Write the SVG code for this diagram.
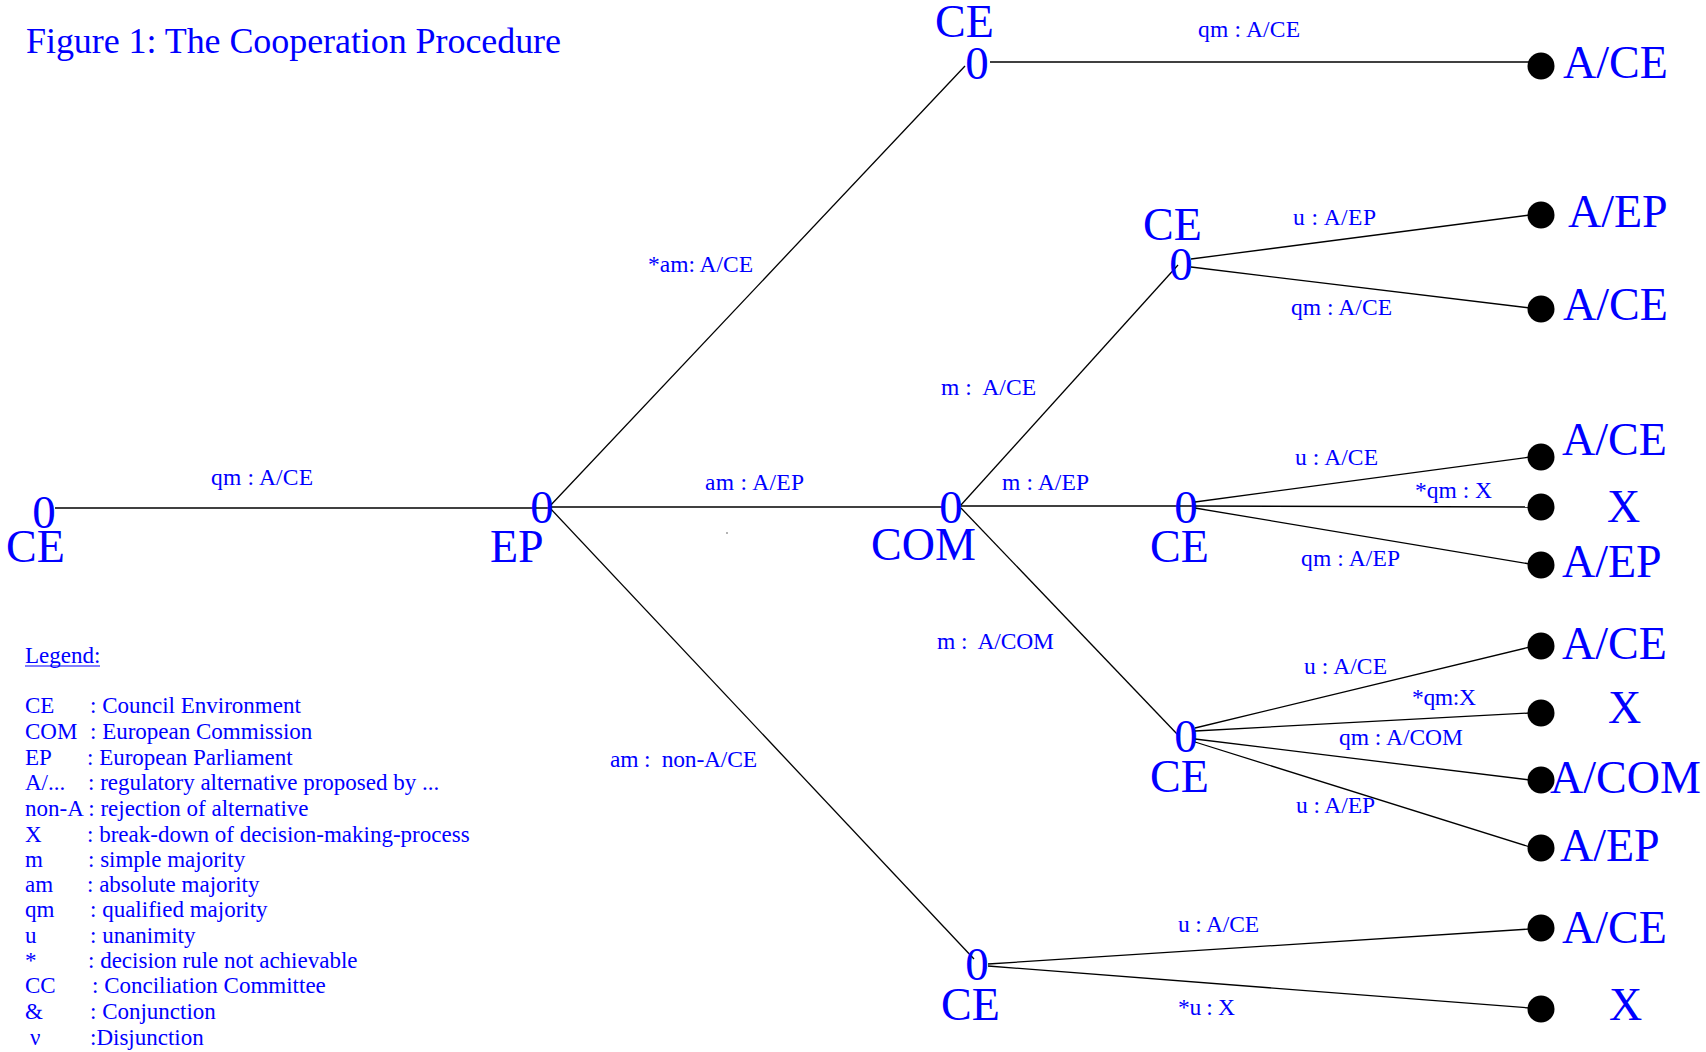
<svg xmlns="http://www.w3.org/2000/svg" width="1706" height="1052" viewBox="0 0 1706 1052">
<style>
text{font-family:"Liberation Serif","Times New Roman",serif;fill:#0000FF}
.title{font-size:36px}
.zero{font-size:47px;text-anchor:middle}
.nl{font-size:46px}
.out{font-size:46px}
.el{font-size:23.5px}
.lg{font-size:23px}
.cn line{stroke:#000;stroke-width:1.3;fill:none}
.dot{fill:#000}
</style>
<rect width="1706" height="1052" fill="#fff"/>
<text class="title" x="26" y="53" textLength="535">Figure 1: The Cooperation Procedure</text>

<g id="connectors" class="cn">
<line x1="55" y1="508" x2="549" y2="508"/>
<line x1="549" y1="507" x2="965" y2="66"/>
<line x1="549" y1="507" x2="943" y2="507"/>
<line x1="549" y1="507" x2="974" y2="959"/>
<line x1="990" y1="62" x2="1530" y2="62"/>
<line x1="961" y1="505" x2="1178" y2="265"/>
<line x1="961" y1="506" x2="1190" y2="506"/>
<line x1="961" y1="508" x2="1178" y2="735"/>
<line x1="1191" y1="259" x2="1530" y2="215"/>
<line x1="1191" y1="267" x2="1530" y2="308"/>
<line x1="1195" y1="502" x2="1530" y2="457"/>
<line x1="1190" y1="506" x2="1530" y2="507"/>
<line x1="1195" y1="508" x2="1530" y2="564"/>
<line x1="1195" y1="728" x2="1530" y2="647"/>
<line x1="1195" y1="731" x2="1530" y2="713"/>
<line x1="1195" y1="739" x2="1530" y2="780"/>
<line x1="1195" y1="742" x2="1530" y2="847"/>
<line x1="988" y1="964" x2="1530" y2="929"/>
<line x1="988" y1="966" x2="1530" y2="1008"/>
<circle cx="727" cy="533" r="0.8" fill="#555"/>
</g>

<g id="edge-labels">
<text class="el" x="211" y="485" textLength="102">qm : A/CE</text>
<text class="el" x="648" y="272" textLength="105">*am: A/CE</text>
<text class="el" x="705" y="490" textLength="99">am : A/EP</text>
<text class="el" x="610" y="767" textLength="147">am :&#160; non-A/CE</text>
<text class="el" x="1198" y="37" textLength="102">qm : A/CE</text>
<text class="el" x="941" y="395" textLength="95">m :&#160; A/CE</text>
<text class="el" x="1002" y="490" textLength="87">m : A/EP</text>
<text class="el" x="937" y="649" textLength="117">m :&#160; A/COM</text>
<text class="el" x="1293" y="225" textLength="83">u : A/EP</text>
<text class="el" x="1291" y="315" textLength="101">qm : A/CE</text>
<text class="el" x="1295" y="465" textLength="83">u : A/CE</text>
<text class="el" x="1415" y="498" textLength="77">*qm : X</text>
<text class="el" x="1301" y="566" textLength="99">qm : A/EP</text>
<text class="el" x="1304" y="674" textLength="83">u : A/CE</text>
<text class="el" x="1412" y="705" textLength="64">*qm:X</text>
<text class="el" x="1339" y="745" textLength="124">qm : A/COM</text>
<text class="el" x="1296" y="813" textLength="79">u : A/EP</text>
<text class="el" x="1178" y="932" textLength="81">u : A/CE</text>
<text class="el" x="1178" y="1015" textLength="57">*u : X</text>
</g>

<g id="node-ce-root"><text class="zero" x="44" y="528">0</text><text class="nl" x="6" y="562">CE</text></g>
<g id="node-ep"><text class="zero" x="542" y="523">0</text><text class="nl" x="490" y="562">EP</text></g>
<g id="node-com"><text class="zero" x="951" y="523">0</text><text class="nl" x="871" y="560">COM</text></g>
<g id="node-ce-top"><text class="zero" x="977" y="79">0</text><text class="nl" x="935" y="37">CE</text></g>
<g id="node-ce-2"><text class="zero" x="1181" y="280">0</text><text class="nl" x="1143" y="240">CE</text></g>
<g id="node-ce-3"><text class="zero" x="1186" y="523">0</text><text class="nl" x="1150" y="562">CE</text></g>
<g id="node-ce-4"><text class="zero" x="1186" y="752">0</text><text class="nl" x="1150" y="792">CE</text></g>
<g id="node-ce-5"><text class="zero" x="977" y="980">0</text><text class="nl" x="941" y="1020">CE</text></g>

<g id="out-1"><circle class="dot" cx="1541" cy="66" r="13.5"/><text class="out" x="1563" y="78">A/CE</text></g>
<g id="out-2"><circle class="dot" cx="1541" cy="215" r="13.5"/><text class="out" x="1568" y="227">A/EP</text></g>
<g id="out-3"><circle class="dot" cx="1541" cy="309" r="13.5"/><text class="out" x="1563" y="320">A/CE</text></g>
<g id="out-4"><circle class="dot" cx="1541" cy="457" r="13.5"/><text class="out" x="1562" y="455">A/CE</text></g>
<g id="out-5"><circle class="dot" cx="1541" cy="507" r="13.5"/><text class="out" x="1607" y="522">X</text></g>
<g id="out-6"><circle class="dot" cx="1541" cy="565" r="13.5"/><text class="out" x="1562" y="577">A/EP</text></g>
<g id="out-7"><circle class="dot" cx="1541" cy="646" r="13.5"/><text class="out" x="1562" y="659">A/CE</text></g>
<g id="out-8"><circle class="dot" cx="1541" cy="713" r="13.5"/><text class="out" x="1608" y="723">X</text></g>
<g id="out-9"><circle class="dot" cx="1541" cy="780" r="13.5"/><text class="out" x="1550" y="793">A/COM</text></g>
<g id="out-10"><circle class="dot" cx="1541" cy="848" r="13.5"/><text class="out" x="1560" y="861">A/EP</text></g>
<g id="out-11"><circle class="dot" cx="1541" cy="928" r="13.5"/><text class="out" x="1562" y="943">A/CE</text></g>
<g id="out-12"><circle class="dot" cx="1541" cy="1009" r="13.5"/><text class="out" x="1609" y="1020">X</text></g>

<g id="legend">
<text class="lg" x="25" y="663">Legend:</text>
<line x1="25" y1="666" x2="100" y2="666" stroke="#0000FF" stroke-width="1.2"/>
<text class="lg" x="25" y="713">CE</text><text class="lg" x="90" y="713">: Council Environment</text>
<text class="lg" x="25" y="739">COM</text><text class="lg" x="90" y="739">: European Commission</text>
<text class="lg" x="25" y="765">EP</text><text class="lg" x="87" y="765">: European Parliament</text>
<text class="lg" x="25" y="790">A/...</text><text class="lg" x="88" y="790">: regulatory alternative proposed by ...</text>
<text class="lg" x="25" y="816">non-A : rejection of alternative</text>
<text class="lg" x="25" y="842">X</text><text class="lg" x="87" y="842">: break-down of decision-making-process</text>
<text class="lg" x="25" y="867">m</text><text class="lg" x="88" y="867">: simple majority</text>
<text class="lg" x="25" y="892">am</text><text class="lg" x="87" y="892">: absolute majority</text>
<text class="lg" x="25" y="917">qm</text><text class="lg" x="90" y="917">: qualified majority</text>
<text class="lg" x="25" y="943">u</text><text class="lg" x="90" y="943">: unanimity</text>
<text class="lg" x="25" y="968">*</text><text class="lg" x="88" y="968">: decision rule not achievable</text>
<text class="lg" x="25" y="993">CC</text><text class="lg" x="92" y="993">: Conciliation Committee</text>
<text class="lg" x="25" y="1019">&amp;</text><text class="lg" x="90" y="1019">: Conjunction</text>
<text class="lg" x="30" y="1045">ν</text><text class="lg" x="90" y="1045">:Disjunction</text>
</g>
</svg>
